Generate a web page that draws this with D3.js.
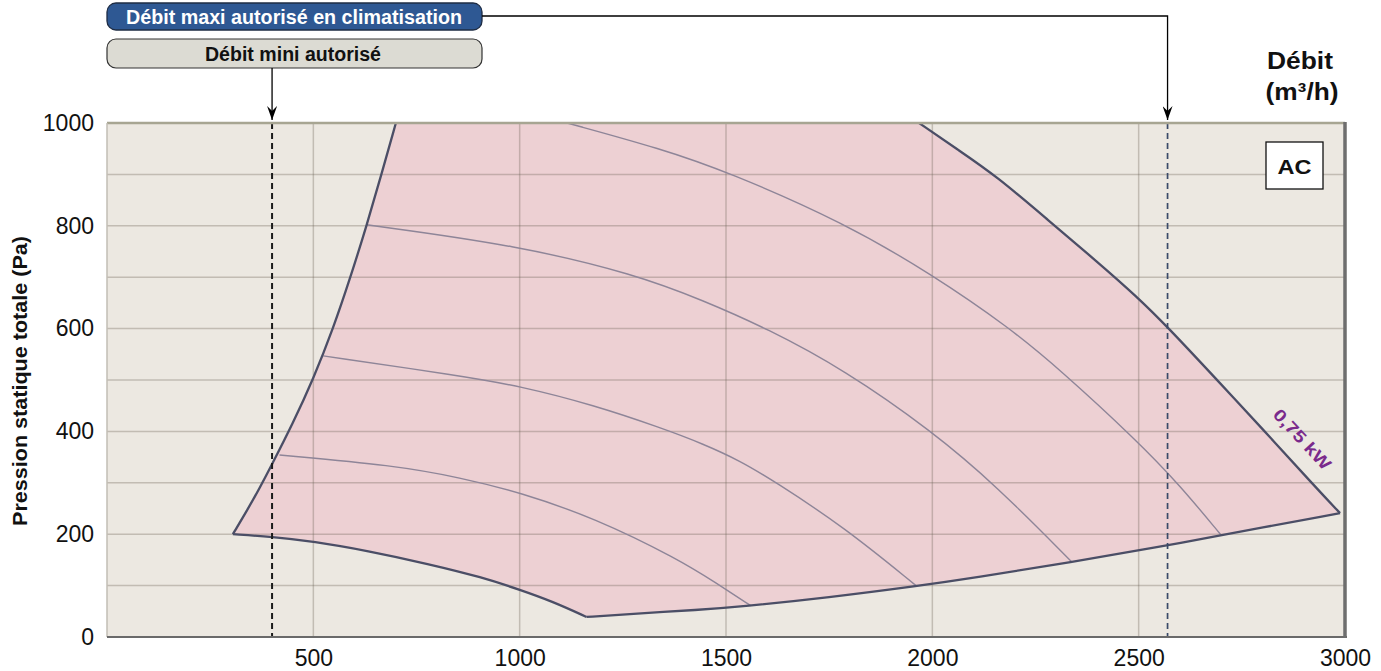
<!DOCTYPE html>
<html lang="fr">
<head>
<meta charset="utf-8">
<script src="https://cdn.jsdelivr.net/npm/d3@7"></script>
<style>
  html, body { margin: 0; padding: 0; background: #ffffff; }
  svg { display: block; font-family: "Liberation Sans", Arial, sans-serif; }
</style>
</head>
<body>
<svg id="chart" width="1381" height="671"></svg>
<script>
// Axis ticks
const debitTicks = [500, 1000, 1500, 2000, 2500, 3000];
const pressionTicks = [0, 200, 400, 600, 800, 1000];
const gridDebit = [500, 1000, 1500, 2000, 2500];
const gridPression = [100, 200, 300, 400, 500, 600, 700, 800, 900];

// Operating envelope boundaries [débit m³/h, pression Pa]
const limiteGauche = [[305,200],[340,247],[370,290],[398,333],[450,415],[500,502],[548,600],[590,700],[629,800],[665,900],[700,1000]];
const limiteHaut = [[700,1000],[1968,1000]];
const limiteDroite = [[1968,1000],[2060,949],[2155,897],[2282,810],[2400,730],[2496,662],[2568,605],[2690,500],[2800,405],[2928,292],[2988,241]];
const limiteBasDroite = [[1162,39],[1250,44],[1440,53],[1536,59],[1750,77],[1962,99],[2100,115],[2338,146],[2556,176],[2700,198],[2988,241]];
const limiteBasGauche = [[305,200],[400,195],[500,186],[630,168],[780,142],[910,116],[1000,92],[1080,69],[1162,39]];

// Intermediate fan curves
const courbeA = [[418,354],[695,334],[857,310],[1002,281],[1180,232],[1383,152],[1480,103],[1560,61]];
const courbeB = [[524,547],[857,508],[1002,488],[1180,451],[1342,407],[1444,376],[1536,342],[1615,304],[1786,214],[1962,99]];
const courbeC = [[629,802],[994,762],[1282,705],[1444,655],[1600,600],[1786,520],[2000,400],[2154,295],[2338,146]];
const courbeD = [[1115,1000],[1342,950],[1504,905],[1786,806],[2000,705],[2188,601],[2308,521],[2496,382],[2600,295],[2700,198]];
const courbesInternes = [courbeA, courbeB, courbeC, courbeD];

// Allowed flow limits
const debitMini = 400;
const debitMaxi = 2570;
const puissanceLabel = "0,75 kW";
const puissancePos = [2886, 377];

const svg = d3.select("#chart");
const x = d3.scaleLinear().domain([0, 3000]).range([107, 1345]);
const y = d3.scaleLinear().domain([0, 1000]).range([637, 123]);

// Downward arrowhead
const defs = svg.append("defs");
defs.append("marker")
  .attr("id", "fleche")
  .attr("viewBox", "0 0 10 15")
  .attr("refX", 5).attr("refY", 15)
  .attr("markerWidth", 10).attr("markerHeight", 15)
  .attr("markerUnits", "userSpaceOnUse")
  .attr("orient", "0")
  .append("path")
  .attr("d", "M0,1 L5,6 L10,1 L5,15 Z")
  .attr("fill", "#000");

// Plot background
svg.append("rect")
  .attr("x", x(0)).attr("y", y(1000))
  .attr("width", x(3000) - x(0)).attr("height", y(0) - y(1000))
  .attr("fill", "#ECE8E1");

// Envelope fill
const lisse = d3.line().x(d => x(d[0])).y(d => y(d[1])).curve(d3.curveBasis);
const droit = d3.line().x(d => x(d[0])).y(d => y(d[1]));
const segments = [
  lisse(limiteGauche),
  droit(limiteHaut),
  lisse(limiteDroite),
  lisse(limiteBasDroite.slice().reverse()),
  lisse(limiteBasGauche.slice().reverse())
];
const contour = segments.map((s, i) => i === 0 ? s : s.replace(/^M/, "L")).join("") + "Z";
svg.append("path").attr("d", contour).attr("fill", "#EDD0D3");

// Grid
const grille = svg.append("g").attr("stroke", "rgba(105,95,85,0.32)").attr("stroke-width", 1.5);
grille.selectAll("line.v").data(gridDebit).join("line")
  .attr("x1", d => x(d)).attr("x2", d => x(d))
  .attr("y1", y(1000)).attr("y2", y(0));
grille.selectAll("line.h").data(gridPression).join("line")
  .attr("x1", x(0)).attr("x2", x(3000))
  .attr("y1", d => y(d)).attr("y2", d => y(d));

// Intermediate curves
svg.append("g").selectAll("path").data(courbesInternes).join("path")
  .attr("d", lisse)
  .attr("fill", "none")
  .attr("stroke", "#8E8598")
  .attr("stroke-width", 1.4);

// Envelope outline
svg.append("g").selectAll("path")
  .data([limiteGauche, limiteDroite, limiteBasDroite, limiteBasGauche]).join("path")
  .attr("d", lisse)
  .attr("fill", "none")
  .attr("stroke", "#4B4E66")
  .attr("stroke-width", 2.3)
  .attr("stroke-linejoin", "round");

// Flow limit lines
svg.append("line")
  .attr("x1", x(debitMini)).attr("x2", x(debitMini))
  .attr("y1", y(1000)).attr("y2", y(0))
  .attr("stroke", "#1a1a1a").attr("stroke-width", 2).attr("stroke-dasharray", "6,4");
svg.append("line")
  .attr("x1", x(debitMaxi)).attr("x2", x(debitMaxi))
  .attr("y1", y(1000)).attr("y2", y(0))
  .attr("stroke", "#3B4A68").attr("stroke-width", 1.7).attr("stroke-dasharray", "6,4");

// Frame
svg.append("line").attr("x1", x(0)).attr("x2", x(3000)).attr("y1", y(1000)).attr("y2", y(1000))
  .attr("stroke", "#A7A592").attr("stroke-width", 2.5);
svg.append("line").attr("x1", x(0)).attr("x2", x(0)).attr("y1", y(1000)).attr("y2", y(0))
  .attr("stroke", "#C2BEB4").attr("stroke-width", 1.5);
svg.append("line").attr("x1", x(0)).attr("x2", x(3000) + 2).attr("y1", y(0)).attr("y2", y(0))
  .attr("stroke", "#6A6A6A").attr("stroke-width", 2);
svg.append("line").attr("x1", x(3000)).attr("x2", x(3000)).attr("y1", y(1000) - 1).attr("y2", y(0) + 1)
  .attr("stroke", "#6E6E6E").attr("stroke-width", 3.5);

// Axes
const axeX = svg.append("g").attr("transform", `translate(0,${y(0)})`)
  .call(d3.axisBottom(x).tickValues(debitTicks).tickSize(0).tickPadding(13).tickFormat(d3.format("d")));
const axeY = svg.append("g").attr("transform", `translate(${x(0)},0)`)
  .call(d3.axisLeft(y).tickValues(pressionTicks).tickSize(0).tickPadding(13).tickFormat(d3.format("d")));
[axeX, axeY].forEach(a => {
  a.select(".domain").remove();
  a.selectAll("text").attr("font-size", 23).attr("fill", "#111").attr("font-family", "'Liberation Sans', Arial, sans-serif");
});

// Axis titles
svg.append("text")
  .attr("transform", `translate(27,${(y(0) + y(1000)) / 2 + 1}) rotate(-90)`)
  .attr("text-anchor", "middle")
  .attr("font-size", 20).attr("font-weight", "bold").attr("fill", "#111")
  .attr("textLength", 290).attr("lengthAdjust", "spacingAndGlyphs")
  .text("Pression statique totale (Pa)");
svg.append("text").attr("x", 1300).attr("y", 69)
  .attr("text-anchor", "middle").attr("font-size", 24).attr("font-weight", "bold").attr("fill", "#111")
  .attr("textLength", 66).attr("lengthAdjust", "spacingAndGlyphs")
  .text("Débit");
svg.append("text").attr("x", 1302).attr("y", 100)
  .attr("text-anchor", "middle").attr("font-size", 24).attr("font-weight", "bold").attr("fill", "#111")
  .attr("textLength", 73).attr("lengthAdjust", "spacingAndGlyphs")
  .text("(m³/h)");

// Mode box
svg.append("rect").attr("x", 1266).attr("y", 142).attr("width", 57).attr("height", 47)
  .attr("fill", "#fff").attr("stroke", "#111").attr("stroke-width", 1.3);
svg.append("text").attr("x", 1294.5).attr("y", 174)
  .attr("text-anchor", "middle").attr("font-size", 21).attr("font-weight", "bold").attr("fill", "#111")
  .attr("textLength", 34).attr("lengthAdjust", "spacingAndGlyphs")
  .text("AC");

// Motor power label along the right boundary
const angle = Math.atan2(y(292) - y(497), x(2928) - x(2690)) * 180 / Math.PI;
svg.append("text")
  .attr("transform", `translate(${x(puissancePos[0])},${y(puissancePos[1])}) rotate(${angle})`)
  .attr("text-anchor", "middle")
  .attr("font-size", 17).attr("font-weight", "bold").attr("fill", "#7A2A8C")
  .attr("textLength", 76).attr("lengthAdjust", "spacingAndGlyphs")
  .text(puissanceLabel);

// Limit boxes
svg.append("rect").attr("x", 107).attr("y", 3).attr("width", 375).attr("height", 27).attr("rx", 9)
  .attr("fill", "#2E5893").attr("stroke", "#1E2C44").attr("stroke-width", 1.3);
svg.append("text").attr("x", 294).attr("y", 23.5)
  .attr("text-anchor", "middle")
  .attr("font-size", 20).attr("font-weight", "bold").attr("fill", "#fff")
  .attr("textLength", 336).attr("lengthAdjust", "spacingAndGlyphs")
  .text("Débit maxi autorisé en climatisation");

svg.append("rect").attr("x", 107).attr("y", 39).attr("width", 375).attr("height", 29).attr("rx", 9)
  .attr("fill", "#DCDBD3").attr("stroke", "#333").attr("stroke-width", 1.2);
svg.append("text").attr("x", 293).attr("y", 60.5)
  .attr("text-anchor", "middle")
  .attr("font-size", 20).attr("font-weight", "bold").attr("fill", "#111")
  .attr("textLength", 176).attr("lengthAdjust", "spacingAndGlyphs")
  .text("Débit mini autorisé");

// Connectors to the limit lines
svg.append("path")
  .attr("d", `M${x(debitMini)},68 L${x(debitMini)},${y(1000) - 3}`)
  .attr("fill", "none").attr("stroke", "#000").attr("stroke-width", 1.3)
  .attr("marker-end", "url(#fleche)");
svg.append("path")
  .attr("d", `M482,16 L${x(debitMaxi)},16 L${x(debitMaxi)},${y(1000) - 3}`)
  .attr("fill", "none").attr("stroke", "#000").attr("stroke-width", 1.3)
  .attr("marker-end", "url(#fleche)");
</script>
</body>
</html>
